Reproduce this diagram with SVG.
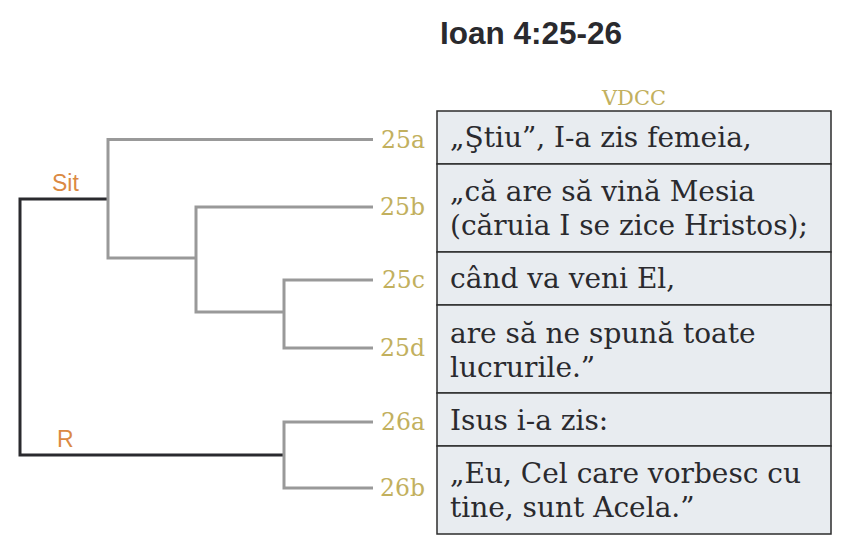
<svg xmlns="http://www.w3.org/2000/svg" width="860" height="560" viewBox="0 0 860 560">
<style>
.title{font-family:"Liberation Sans",Arial,sans-serif;font-weight:bold;font-size:31.5px;fill:#2a2a2e}
.hdr{font-family:"DejaVu Serif","Liberation Serif",serif;font-size:21px;fill:#c2b05e}
.vl{font-family:"DejaVu Serif","Liberation Serif",serif;font-size:23.5px;fill:#c2b05e;text-anchor:end}
.rel{font-family:"Liberation Sans",Arial,sans-serif;font-size:23px;fill:#db8a43}
.cell{fill:#e8ecf0;stroke:#2d2d2d;stroke-width:1.5}
.tx{font-family:"DejaVu Serif","Liberation Serif",serif;font-size:28px;fill:#2a2a2e}
.gr{fill:none;stroke:#999;stroke-width:3}
.bk{fill:none;stroke:#2a2a2e;stroke-width:3}
</style>
<rect width="860" height="560" fill="#fff"/>
<text class="title" x="440" y="44">Ioan 4:25-26</text>
<text class="hdr" x="634" y="105" text-anchor="middle">VDCC</text>
<g id="connectors">
<polyline class="bk" points="108,199 20,199 20,455 284,455"/>
<polyline class="gr" points="373,139.5 108,139.5 108,258 196,258"/>
<polyline class="gr" points="373,207 196,207 196,312 284,312"/>
<polyline class="gr" points="373,280 284,280 284,348 373,348"/>
<polyline class="gr" points="373,422 284,422 284,488 373,488"/>
</g>
<g id="rel-sit"><text class="rel" x="52" y="191">Sit</text></g>
<g id="rel-r"><text class="rel" x="57" y="447">R</text></g>
<g id="v25a">
<rect class="cell" x="437" y="111" width="394" height="53"/>
<text class="vl" x="425" y="148">25a</text>
<text class="tx" x="450" y="147">„Ştiu”, I-a zis femeia,</text>
</g>
<g id="v25b">
<rect class="cell" x="437" y="164" width="394" height="88"/>
<text class="vl" x="425" y="215">25b</text>
<text class="tx" x="450" y="201">„că are să vină Mesia</text>
<text class="tx" x="450" y="235">(căruia I se zice Hristos);</text>
</g>
<g id="v25c">
<rect class="cell" x="437" y="252" width="394" height="53"/>
<text class="vl" x="425" y="288">25c</text>
<text class="tx" x="450" y="288">când va veni El,</text>
</g>
<g id="v25d">
<rect class="cell" x="437" y="305" width="394" height="88"/>
<text class="vl" x="425" y="356">25d</text>
<text class="tx" x="450" y="343">are să ne spună toate</text>
<text class="tx" x="450" y="377">lucrurile.”</text>
</g>
<g id="v26a">
<rect class="cell" x="437" y="393" width="394" height="53"/>
<text class="vl" x="425" y="430">26a</text>
<text class="tx" x="450" y="430">Isus i-a zis:</text>
</g>
<g id="v26b">
<rect class="cell" x="437" y="446" width="394" height="88"/>
<text class="vl" x="425" y="496">26b</text>
<text class="tx" x="450" y="483">„Eu, Cel care vorbesc cu</text>
<text class="tx" x="450" y="517">tine, sunt Acela.”</text>
</g>
</svg>
